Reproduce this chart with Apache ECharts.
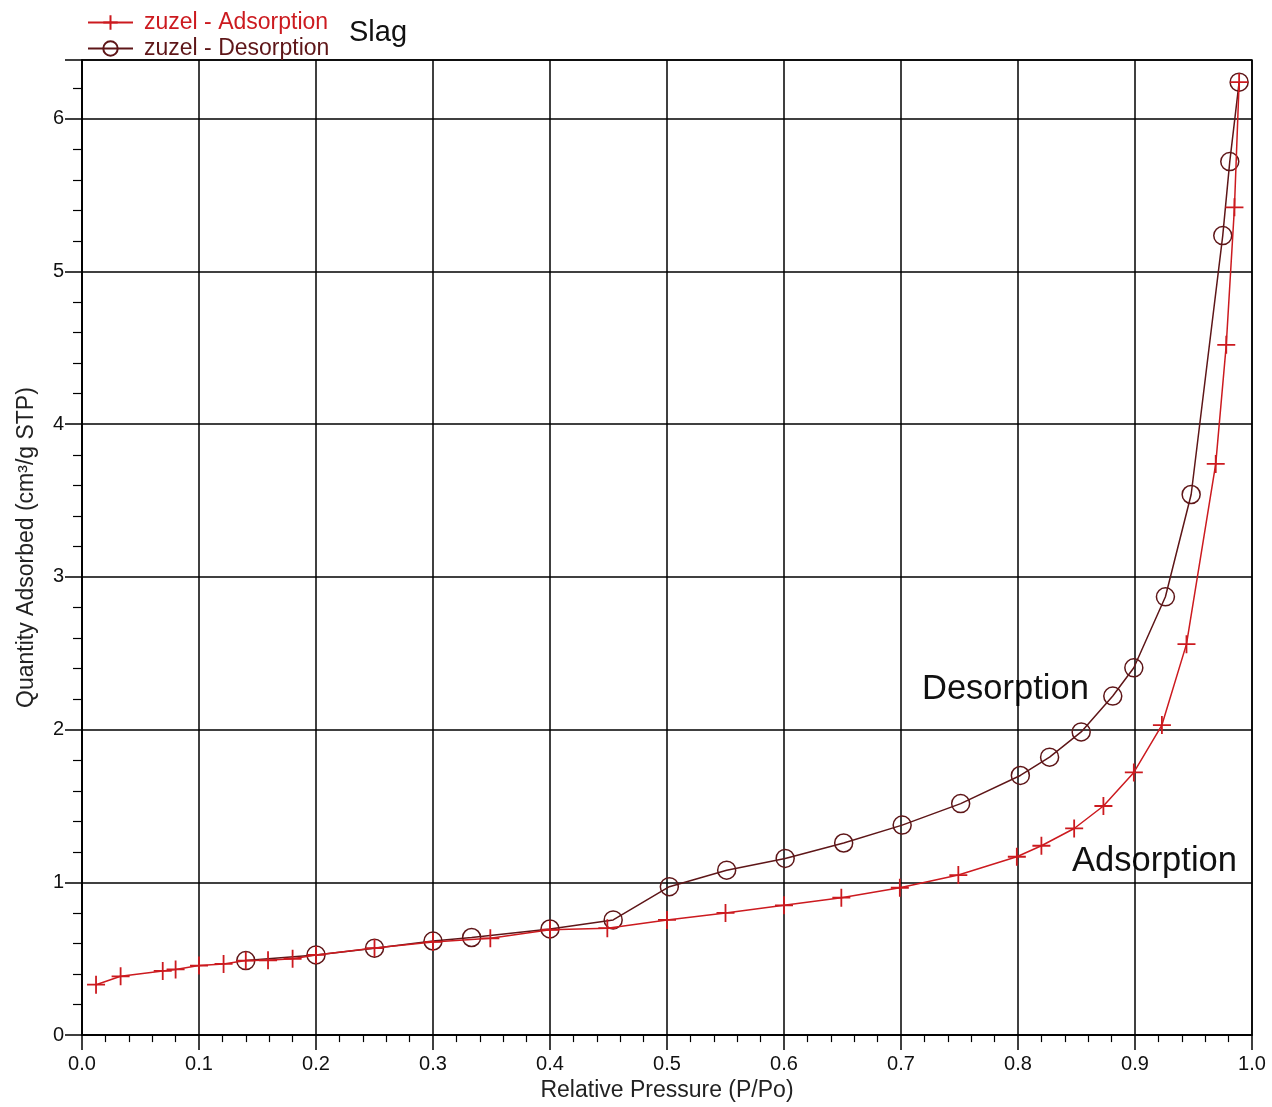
<!DOCTYPE html>
<html><head><meta charset="utf-8">
<script src="https://cdn.jsdelivr.net/npm/echarts@6/dist/echarts.min.js"></script>
<style>html,body{margin:0;padding:0;background:#fff}#c{width:1272px;height:1107px}</style>
</head><body><div id="c"></div>
<script>
const adsX = [0.012, 0.033, 0.069, 0.080, 0.100, 0.121, 0.140, 0.159, 0.180, 0.200, 0.250, 0.300, 0.349, 0.400, 0.449, 0.500, 0.550, 0.600, 0.649, 0.699, 0.749, 0.799, 0.820, 0.848, 0.873, 0.899, 0.923, 0.944, 0.969, 0.978, 0.985, 0.989];
const adsY = [0.33, 0.385, 0.42, 0.43, 0.455, 0.466, 0.488, 0.49, 0.50, 0.525, 0.57, 0.61, 0.634, 0.69, 0.70, 0.754, 0.80, 0.85, 0.90, 0.965, 1.048, 1.168, 1.24, 1.353, 1.50, 1.72, 2.03, 2.56, 3.74, 4.52, 5.42, 6.24];
const desX = [0.989, 0.981, 0.975, 0.948, 0.926, 0.899, 0.881, 0.854, 0.827, 0.802, 0.751, 0.701, 0.651, 0.601, 0.551, 0.502, 0.454, 0.400, 0.333, 0.300, 0.250, 0.200, 0.140];
const desY = [6.24, 5.72, 5.235, 3.54, 2.87, 2.405, 2.22, 1.985, 1.82, 1.70, 1.516, 1.375, 1.258, 1.157, 1.08, 0.972, 0.754, 0.695, 0.639, 0.616, 0.569, 0.525, 0.488];
const seriesNames = ['zuzel - Adsorption', 'zuzel - Desorption'];
const xTicks = [0, 0.1, 0.2, 0.3, 0.4, 0.5, 0.6, 0.7, 0.8, 0.9, 1.0];
const yTicks = [0, 1, 2, 3, 4, 5, 6];

const RED = '#cc1a1f';
const MAROON = '#5e1618';
const FONT = '"Liberation Sans", Arial, sans-serif';

const chart = echarts.init(document.getElementById('c'), null, {renderer: 'canvas'});
chart.setOption({
  animation: false,
  backgroundColor: '#fff',
  textStyle: {fontFamily: FONT},
  grid: {left: 82, right: 20, top: 60, bottom: 70, show: true, borderColor: '#000', borderWidth: 1.5, backgroundColor: 'transparent'},
  legend: {
    orient: 'vertical', left: 82, top: 6, itemWidth: 45, itemHeight: 18, itemGap: 3,
    textStyle: {fontSize: 23, lineHeight: 23, fontFamily: FONT, padding: [0, 0, 0, 6]},
    data: [
      {name: seriesNames[0], textStyle: {color: RED}},
      {name: seriesNames[1], textStyle: {color: MAROON}}
    ]
  },
  xAxis: {
    type: 'value', min: xTicks[0], max: xTicks[xTicks.length - 1], interval: 0.1,
    name: 'Relative Pressure (P/Po)', nameLocation: 'middle', nameGap: 42,
    nameTextStyle: {fontSize: 23, color: '#222', fontFamily: FONT},
    axisLine: {show: true, lineStyle: {color: '#000', width: 1.5}},
    axisTick: {show: true, inside: false, length: 15, lineStyle: {color: '#000', width: 1.5}},
    minorTick: {show: true, splitNumber: 5, length: 7, lineStyle: {color: '#000', width: 1.2}},
    axisLabel: {fontSize: 20, color: '#111', margin: 19, formatter: v => v.toFixed(1)},
    splitLine: {show: true, lineStyle: {color: '#000', width: 1.5}}
  },
  yAxis: {
    type: 'value', min: yTicks[0], max: 6.385, interval: 1,
    name: 'Quantity Adsorbed (cm³/g STP)', nameLocation: 'middle', nameGap: 44,
    nameTextStyle: {fontSize: 23, color: '#222', fontFamily: FONT},
    axisLine: {show: true, lineStyle: {color: '#000', width: 1.5}},
    axisTick: {show: true, length: 17, lineStyle: {color: '#000', width: 1.5}},
    minorTick: {show: true, splitNumber: 5, length: 9, lineStyle: {color: '#000', width: 1.2}},
    axisLabel: {fontSize: 20, color: '#111', margin: 18, showMaxLabel: false,
      formatter: v => (Number.isInteger(v) ? String(v) : '')},
    splitLine: {show: true, lineStyle: {color: '#000', width: 1.5}}
  },
  series: [
    {
      name: seriesNames[0], type: 'line',
      data: adsX.map((x, i) => [x, adsY[i]]),
      symbol: 'path://M5,0L5,10M0,5L10,5', symbolSize: [18, 18],
      showAllSymbol: true,
      lineStyle: {color: RED, width: 1.5},
      itemStyle: {color: RED, borderColor: RED, borderWidth: 1.8},
      z: 3
    },
    {
      name: seriesNames[1], type: 'line',
      data: desX.map((x, i) => [x, desY[i]]),
      symbol: 'circle', symbolSize: 18,
      showAllSymbol: true,
      lineStyle: {color: MAROON, width: 1.5},
      itemStyle: {color: 'rgba(255,255,255,0)', borderColor: MAROON, borderWidth: 1.5},
      z: 2
    }
  ],
  graphic: [
    {type: 'text', left: 349, top: 18, style: {text: 'Slag', fill: '#111', font: '29px ' + FONT}},
    {type: 'text', left: 922, top: 672, style: {text: 'Desorption', fill: '#111', font: '34.5px ' + FONT}},
    {type: 'text', left: 1072, top: 844, style: {text: 'Adsorption', fill: '#111', font: '34.5px ' + FONT}}
  ]
});
</script>
</body></html>
